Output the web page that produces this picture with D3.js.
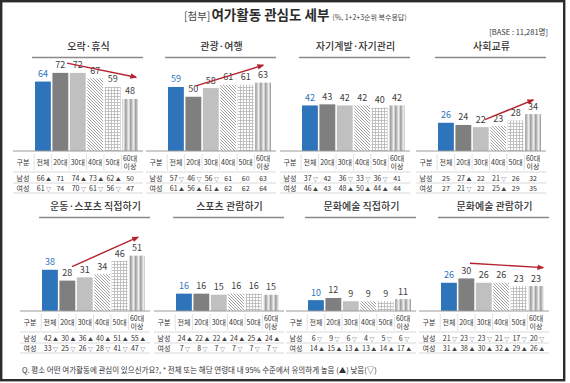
<!DOCTYPE html>
<html><head><meta charset="utf-8">
<script src="https://cdn.jsdelivr.net/npm/d3@7"></script>
<style>
html,body{margin:0;padding:0;background:#fff;}
svg{display:block;font-family:"Noto Sans CJK KR","Noto Sans",sans-serif;}
</style></head>
<body>
<svg id="chart" width="570" height="383"></svg>
<script>
// ---- data ----
const panelTitles = ["오락·휴식","관광·여행","자기계발·자기관리","사회교류","운동·스포츠 직접하기","스포츠 관람하기","문화예술 직접하기","문화예술 관람하기"];
const ageGroups = ["전체","20대","30대","40대","50대","60대 이상"];
const totalValues = [
  [64,72,72,67,59,48],
  [59,50,58,61,61,63],
  [42,43,42,42,40,42],
  [26,24,22,23,28,34],
  [38,28,31,34,46,51],
  [16,16,15,16,16,15],
  [10,12,9,9,9,11],
  [26,30,26,26,23,23]
];
const maleValues = [
  [66,71,74,73,62,50],
  [57,46,56,61,60,63],
  [37,42,36,33,36,41],
  [25,27,22,21,26,32],
  [42,30,36,40,51,55],
  [24,22,22,24,25,24],
  [6,9,6,4,5,6],
  [21,23,23,21,17,20]
];
const maleSig = [
  ["▲","","▲","▲","▲",""],
  ["▽","▽","▽","","",""],
  ["▽","","▽","▽","▽",""],
  ["","▲","","▽","",""],
  ["▲","▲","▲","▲","▲","▲"],
  ["▲","▲","▲","▲","▲","▲"],
  ["▽","▽","▽","▽","▽","▽"],
  ["▽","▽","▽","▽","▽","▽"]
];
const femaleValues = [
  [61,74,70,61,56,47],
  [61,56,61,62,62,64],
  [46,43,48,50,44,44],
  [27,21,22,25,29,35],
  [33,25,26,28,41,47],
  [7,8,7,7,7,7],
  [14,15,13,13,14,17],
  [31,38,30,32,29,26]
];
const femaleSig = [
  ["▽","","▽","▽","▽",""],
  ["▲","▲","▲","","",""],
  ["▲","","▲","▲","▲",""],
  ["","▽","","▲","",""],
  ["▽","▽","▽","▽","▽","▽"],
  ["▽","▽","▽","▽","▽","▽"],
  ["▲","▲","▲","▲","▲","▲"],
  ["▲","▲","▲","▲","▲","▲"]
];
const rowLabels = ["구분","남성","여성"];
// trend arrows: panel index, start/end position in category-index units, start/end value level
const trendPanels = [0,1,3,4,7];
const trendFromIndex = [1.38,1.15,2.24,1.27,1.21];
const trendToIndex = [5.34,5.0,5.0,5.05,5.4];
const trendFromValue = [81,60,29,41,44];
const trendToValue = [68,79,47,68,40];

const mainTitle = "여가활동 관심도 세부";
const titlePrefix = "[첨부]";
const titleNote = "(%, 1+2+3순위 복수응답)";
const baseNote = "[BASE : 11,281명]";
const footNote = "Q. 평소 어떤 여가활동에 관심이 있으신가요?, * 전체 또는 해당 연령대 내 95% 수준에서 유의하게 높음 (▲) 낮음(▽)";

// ---- layout ----
const svg = d3.select("#chart");
const panelX = [35,168,302,438,42,176,308,441];
const rowBase = [151,311];
const barSpan = 103;
const pxPerUnit = 1.085;

// frame
svg.append("rect").attr("x",1.2).attr("y",1.2).attr("width",563).attr("height",379)
  .attr("fill","#fff").attr("stroke","#2b2b2b").attr("stroke-width",2.4);

// patterns
const defs = svg.append("defs");
const p1 = defs.append("pattern").attr("id","hatch").attr("patternUnits","userSpaceOnUse").attr("width",3).attr("height",3);
p1.append("rect").attr("width",3).attr("height",3).attr("fill","#fff");
p1.append("path").attr("d","M0,0L3,3M-1,2L1,4M2,-1L4,1").attr("stroke","#8a8a8a").attr("stroke-width",0.8);
const p2 = defs.append("pattern").attr("id","grid").attr("patternUnits","userSpaceOnUse").attr("width",3).attr("height",3);
p2.append("rect").attr("width",3).attr("height",3).attr("fill","#fff");
p2.append("path").attr("d","M0.5,0V3M0,0.5H3").attr("stroke","#b5b5b5").attr("stroke-width",0.8);
const p3 = defs.append("pattern").attr("id","vstripe").attr("patternUnits","userSpaceOnUse").attr("width",5).attr("height",5);
p3.append("rect").attr("width",5).attr("height",5).attr("fill","#d2d2d2");
p3.append("rect").attr("x",0).attr("width",1.6).attr("height",5).attr("fill","#a3a3a3");
p3.append("rect").attr("x",3).attr("width",0.9).attr("height",5).attr("fill","#efefef");
const arrowM = defs.append("marker").attr("id","arrow").attr("viewBox","0 0 10 10").attr("refX",8).attr("refY",5)
  .attr("markerWidth",5).attr("markerHeight",5).attr("orient","auto");
arrowM.append("path").attr("d","M0,1L10,5L0,9Z").attr("fill","#b5232e");

const barFills = ["#2e74bb","#7f7f7f","#c0c0c0","url(#hatch)","url(#grid)","url(#vstripe)"];

// header
const head = svg.append("text").attr("x",184).attr("y",20).attr("fill","#2b2b2b");
head.append("tspan").attr("font-size",10.5).attr("fill","#444").text(titlePrefix);
head.append("tspan").attr("font-size",13.5).attr("font-weight",700).attr("dx",1).text(mainTitle);
head.append("tspan").attr("font-size",7).attr("fill","#444").attr("dx",3).text(titleNote);
svg.append("text").attr("x",548).attr("y",35).attr("text-anchor","end").attr("font-size",7.5).attr("fill","#333").text(baseNote);

panelTitles.forEach((title, p) => {
  const row = p < 4 ? 0 : 1;
  const base = rowBase[row];
  const x0 = panelX[p];
  const g = svg.append("g");
  const x = d3.scaleBand().domain(ageGroups).range([x0, x0 + barSpan]).paddingInner(0.09).paddingOuter(0);
  const y = d3.scaleLinear().domain([0,100]).range([base, base - 100*pxPerUnit]);
  const idx = d3.scaleLinear().domain([0,5]).range([x(ageGroups[0]) + x.bandwidth()/2, x(ageGroups[5]) + x.bandwidth()/2]);
  const titleY = base - 101;
  g.append("text").attr("x", x0 + barSpan/2 + 2).attr("y", titleY).attr("text-anchor","middle")
    .attr("font-size",10).attr("font-weight",500).attr("fill","#333").text(title);
  g.append("line").attr("x1", x0 - 3).attr("x2", x0 + barSpan + 5).attr("y1", titleY + 7.5).attr("y2", titleY + 7.5)
    .attr("stroke","#8a8a8a").attr("stroke-width",1.6);

  // bars
  g.selectAll("rect.bar").data(totalValues[p]).join("rect").attr("class","bar")
    .attr("x",(d,i)=>x(ageGroups[i])).attr("width",x.bandwidth())
    .attr("y",d=>y(d)).attr("height",d=>base - y(d))
    .attr("fill",(d,i)=>barFills[i]);
  g.selectAll("text.val").data(totalValues[p]).join("text").attr("class","val")
    .attr("x",(d,i)=>x(ageGroups[i]) + x.bandwidth()/2).attr("y",d=>y(d) - 4.5)
    .attr("text-anchor","middle").attr("font-size",9)
    .attr("fill",(d,i)=> i===0 ? "#2e74bb" : "#404040").text(d=>d);

  // trend arrow
  const t = trendPanels.indexOf(p);
  if (t >= 0) {
    g.append("line")
      .attr("x1", idx(trendFromIndex[t])).attr("y1", y(trendFromValue[t]))
      .attr("x2", idx(trendToIndex[t])).attr("y2", y(trendToValue[t]))
      .attr("stroke","#b5232e").attr("stroke-width",1.4).attr("marker-end","url(#arrow)");
  }

  // table
  const tLeft = x0 - 22, tRight = x0 + barSpan + 5;
  const colX = i => x(ageGroups[i]) + x.bandwidth()/2;
  const lines = [0, 21, 32, 42];
  lines.forEach((dy, k) => {
    g.append("line").attr("x1", tLeft).attr("x2", tRight).attr("y1", base + dy).attr("y2", base + dy)
      .attr("stroke", k===0 ? "#9a9a9a" : "#cfcfcf").attr("stroke-width", k===0 ? 1 : 0.8);
  });
  // header vertical separators
  for (let i = 0; i < 6; i++) {
    const sx = x(ageGroups[i]) - x.step()*x.paddingInner()/2;
    g.append("line").attr("x1", sx).attr("x2", sx).attr("y1", base + 3).attr("y2", base + 19)
      .attr("stroke","#d4d4d4").attr("stroke-width",0.7);
  }
  const labX = (tLeft + x(ageGroups[0])) / 2 - 1;
  g.append("text").attr("x", labX).attr("y", base + 14).attr("text-anchor","middle").attr("font-size",7).attr("fill","#333").text(rowLabels[0]);
  g.append("text").attr("x", labX).attr("y", base + 29.5).attr("text-anchor","middle").attr("font-size",7).attr("fill","#333").text(rowLabels[1]);
  g.append("text").attr("x", labX).attr("y", base + 39.5).attr("text-anchor","middle").attr("font-size",7).attr("fill","#333").text(rowLabels[2]);
  ageGroups.forEach((a, i) => {
    const parts = a.split(" ");
    if (parts.length === 1) {
      g.append("text").attr("x", colX(i)).attr("y", base + 14).attr("text-anchor","middle").attr("font-size",7).attr("fill","#333").text(a);
    } else {
      g.append("text").attr("x", colX(i)).attr("y", base + 9.5).attr("text-anchor","middle").attr("font-size",7).attr("fill","#333").text(parts[0]);
      g.append("text").attr("x", colX(i)).attr("y", base + 18).attr("text-anchor","middle").attr("font-size",7).attr("fill","#333").text(parts[1]);
    }
  });
  const cell = (vals, sigs, dy) => {
    vals.forEach((v, i) => {
      const tx = g.append("text").attr("x", colX(i) + (sigs[i] ? 1 : 0)).attr("y", base + dy)
        .attr("text-anchor","middle").attr("font-size",7).attr("fill","#333");
      tx.append("tspan").text(v);
      if (sigs[i]) tx.append("tspan").attr("dx",1.5).attr("font-size",5).attr("fill","#444").text(sigs[i]);
    });
  };
  cell(maleValues[p], maleSig[p], 29.5);
  cell(femaleValues[p], femaleSig[p], 39.5);
});

svg.append("text").attr("x",22).attr("y",373).attr("font-size",7.5).attr("fill","#333").text(footNote);
</script>
</body></html>
